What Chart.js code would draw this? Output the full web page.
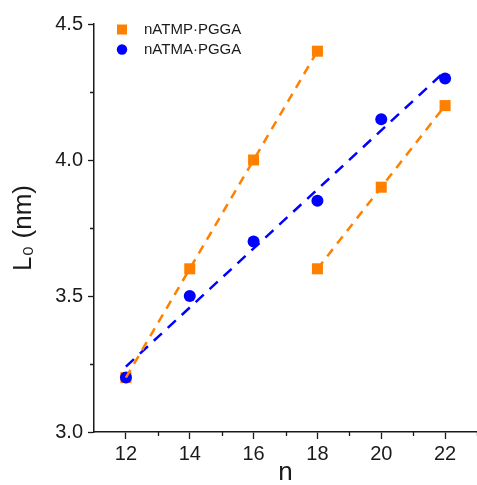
<!DOCTYPE html>
<html>
<head>
<meta charset="utf-8">
<script src="https://cdn.jsdelivr.net/npm/chart.js@4.4.1/dist/chart.umd.min.js"></script>
<style>
  body { margin: 0; background: #fff; }
  #wrap { width: 477px; height: 485px; }
</style>
</head>
<body>
<div id="wrap"><canvas id="chart" width="477" height="485"></canvas></div>
<script>
// chain length n vs. lamellar spacing L0 (nm)
var atmpN = [12, 14, 16, 18, 18, 20, 22];
var atmpL = [3.2, 3.6, 4.0, 4.4, 3.6, 3.9, 4.2];
// the ATMP points fall on two separate branches
var atmpBranch1 = [0, 1, 2, 3];
var atmpBranch2 = [4, 5, 6];

var atmaN = [12, 14, 16, 18, 20, 22];
var atmaL = [3.2, 3.5, 3.7, 3.85, 4.15, 4.3];

var xTicks = [12, 14, 16, 18, 20, 22];
var yTicks = [3.0, 3.5, 4.0, 4.5];
var xMinor = [13, 15, 17, 19, 21, 23];
var yMinor = [3.25, 3.75, 4.25];

var ORANGE = "#ff8000";
var BLUE = "#0000ff";
var INK = "#1a1a1a";
var FONT = "'Liberation Sans', Arial, sans-serif";

function pts(xs, ys, idx) {
  idx = idx || xs.map(function (_, i) { return i; });
  return idx.map(function (i) { return { x: xs[i], y: ys[i] }; });
}

// least squares line through the given points, from first to last x
function fit(p) {
  var n = p.length, sx = 0, sy = 0, sxx = 0, sxy = 0;
  p.forEach(function (q) { sx += q.x; sy += q.y; sxx += q.x * q.x; sxy += q.x * q.y; });
  var b = (n * sxy - sx * sy) / (n * sxx - sx * sx);
  var a = (sy - b * sx) / n;
  var x0 = p[0].x, x1 = p[n - 1].x;
  return [{ x: x0, y: a + b * x0 }, { x: x1, y: a + b * x1 }];
}

function fitLine(p, color, dash) {
  return {
    data: fit(p),
    showLine: true,
    borderColor: color,
    borderWidth: 2.5,
    borderDash: dash,
    pointRadius: 0,
    order: 0,
    isFit: true
  };
}

// minor ticks + legend inside the plot
var extras = {
  id: "extras",
  afterDraw: function (chart) {
    var ctx = chart.ctx, xs = chart.scales.x, ys = chart.scales.y;
    var area = chart.chartArea;
    ctx.save();
    ctx.strokeStyle = INK;
    ctx.lineWidth = 1.3;
    ctx.beginPath();
    xMinor.forEach(function (v) {
      var px = Math.round(xs.getPixelForValue(v)) + 0.5;
      ctx.moveTo(px, area.bottom);
      ctx.lineTo(px, area.bottom + 4);
    });
    yMinor.forEach(function (v) {
      var py = Math.round(ys.getPixelForValue(v)) + 0.5;
      ctx.moveTo(area.left, py);
      ctx.lineTo(area.left - 4, py);
    });
    ctx.stroke();

    var items = chart.data.datasets.filter(function (d) { return !d.isFit; });
    ctx.font = "15px " + FONT;
    ctx.textBaseline = "middle";
    items.forEach(function (d, i) {
      var cx = 122, cy = 29.5 + i * 20;
      ctx.fillStyle = d.backgroundColor;
      if (d.pointStyle === "rect") {
        ctx.fillRect(cx - 5, cy - 5, 10, 10);
      } else {
        ctx.beginPath();
        ctx.arc(cx, cy, 5.2, 0, Math.PI * 2);
        ctx.fill();
      }
      ctx.fillStyle = INK;
      ctx.fillText(d.label, 144, cy + 0.5);
    });
    ctx.restore();
  }
};

var atmpAll = pts(atmpN, atmpL);
var atmaAll = pts(atmaN, atmaL);

var myChart = new Chart(document.getElementById("chart"), {
  type: "scatter",
  data: {
    datasets: [
      {
        label: "nATMP\u00b7PGGA",
        data: atmpAll,
        pointStyle: "rect",
        pointRadius: 7.8,
        pointHoverRadius: 7.8,
        backgroundColor: ORANGE,
        borderWidth: 0,
        order: 2
      },
      {
        label: "nATMA\u00b7PGGA",
        data: atmaAll,
        pointStyle: "circle",
        pointRadius: 6,
        pointHoverRadius: 6,
        backgroundColor: BLUE,
        borderWidth: 0,
        order: 1
      },
      fitLine(pts(atmpN, atmpL, atmpBranch1), ORANGE, [9, 7]),
      fitLine(pts(atmpN, atmpL, atmpBranch2), ORANGE, [9, 7]),
      fitLine(atmaAll, BLUE, [11, 8])
    ]
  },
  options: {
    responsive: false,
    animation: false,
    // no auto padding: axis runs right up to the canvas edge
    layout: { autoPadding: false, padding: { top: 24, right: 0, left: 0, bottom: 0 } },
    plugins: { legend: { display: false }, tooltip: { enabled: false } },
    scales: {
      x: {
        type: "linear",
        min: 11,
        max: 23,
        afterBuildTicks: function (s) { s.ticks = xTicks.map(function (v) { return { value: v }; }); },
        afterFit: function (s) { s.height = 53; s.paddingRight = 0; s.paddingLeft = 0; },
        grid: { display: true, drawOnChartArea: false, drawTicks: true, tickLength: 7, tickColor: INK, tickWidth: 1.3 },
        border: { display: true, color: INK, width: 1.5 },
        ticks: { color: INK, padding: 3, font: { size: 20, family: FONT }, maxRotation: 0 },
        title: { display: true, text: "n", color: INK, padding: { top: 0, bottom: -1 }, font: { size: 26, family: FONT, lineHeight: 1 } }
      },
      y: {
        type: "linear",
        min: 3.0,
        max: 4.5,
        afterBuildTicks: function (s) { s.ticks = yTicks.map(function (v) { return { value: v }; }); },
        afterFit: function (s) { s.width = 94; },
        grid: { display: true, drawOnChartArea: false, drawTicks: true, tickLength: 6, tickColor: INK, tickWidth: 1.3 },
        border: { display: true, color: INK, width: 1.5 },
        ticks: {
          color: INK,
          padding: 5,
          font: { size: 20, family: FONT },
          callback: function (v) { return Number(v).toFixed(1); }
        },
        title: { display: true, text: "L\u2080 (nm)", color: INK, padding: { top: 8, bottom: 0 }, font: { size: 26, family: FONT } }
      }
    }
  },
  plugins: [extras]
});
</script>
</body>
</html>
